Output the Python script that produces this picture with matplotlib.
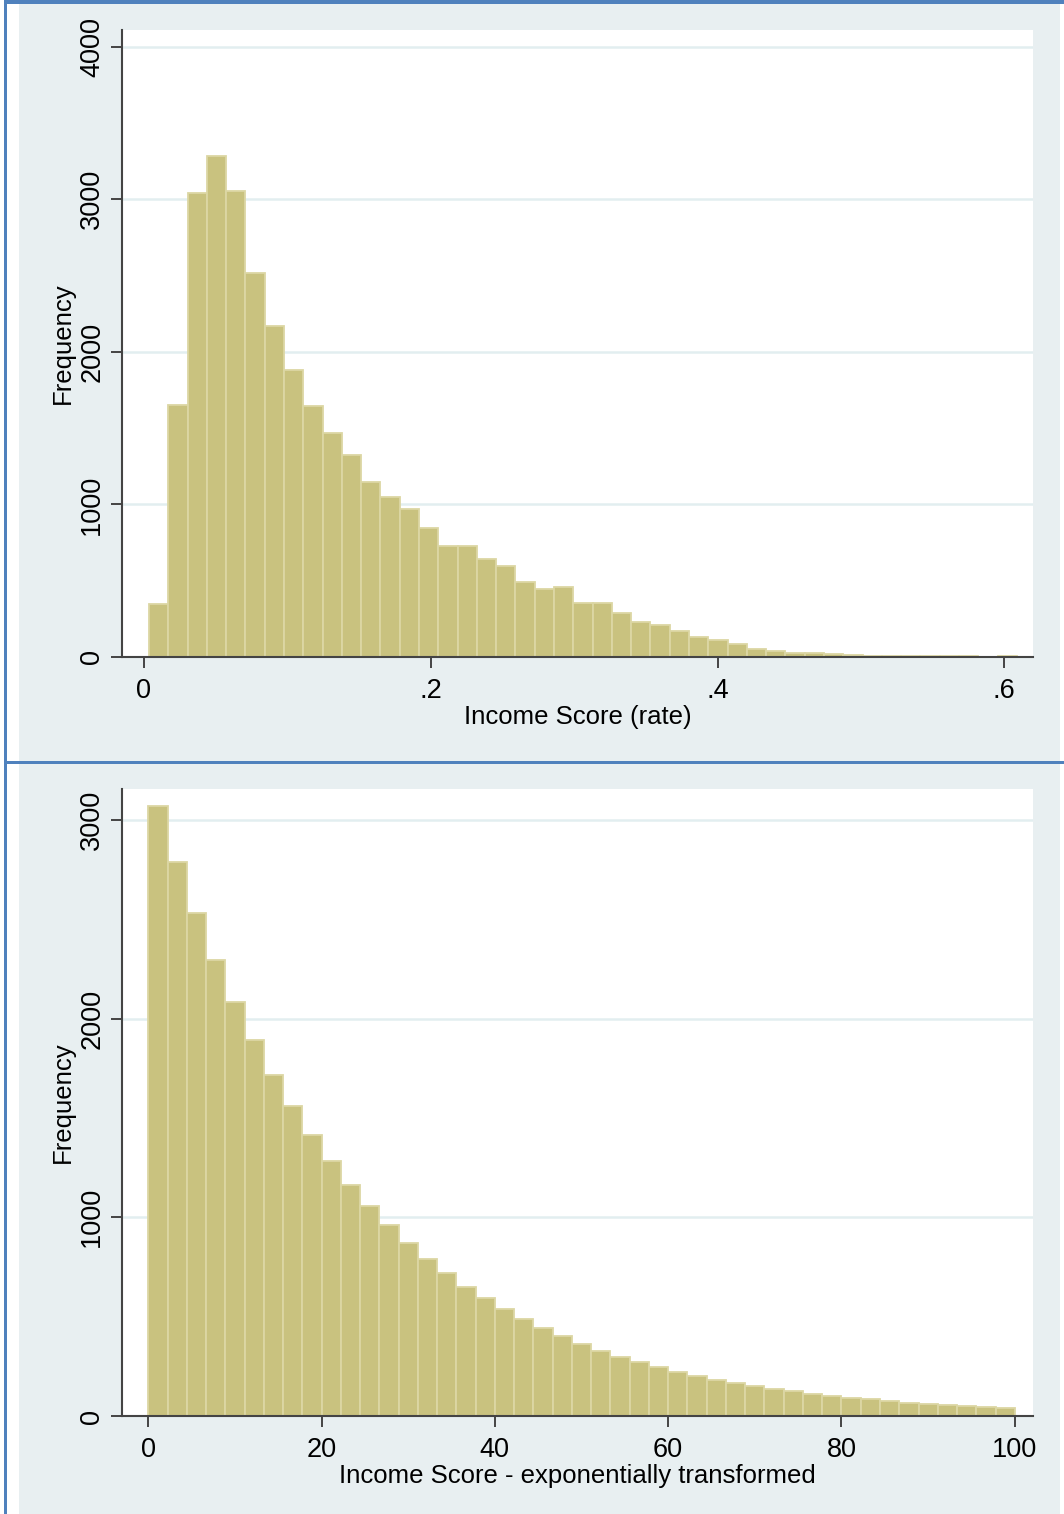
import matplotlib
matplotlib.use("Agg")
import matplotlib.pyplot as plt
import numpy as np
from matplotlib.patches import Rectangle

# Data: histogram counts (45 bins each)
rate_min, rate_max = 0.0035, 0.6088
rate_counts = [348, 1652, 3043, 3285, 3056, 2518, 2170, 1882, 1646, 1469,
               1325, 1148, 1049, 970, 846, 728, 728, 643, 597, 492,
               446, 459, 354, 354, 289, 230, 210, 170, 131, 111,
               85, 55, 40, 28, 25, 20, 12, 9, 8, 7,
               7, 6, 6, 0, 6]
rate_xticks = [0, 0.2, 0.4, 0.6]
rate_xticklabels = ["0", ".2", ".4", ".6"]
rate_yticks = [0, 1000, 2000, 3000, 4000]

exp_min, exp_max = 0.0, 100.0
exp_counts = [3070, 2788, 2531, 2295, 2083, 1892, 1716, 1560, 1414, 1283,
              1163, 1057, 961, 871, 790, 720, 649, 594, 538, 488,
              443, 403, 362, 327, 297, 272, 247, 221, 201, 181,
              166, 151, 136, 126, 111, 101, 91, 86, 75, 65,
              60, 55, 50, 45, 40]
exp_xticks = [0, 20, 40, 60, 80, 100]
exp_yticks = [0, 1000, 2000, 3000]

W, H = 1064, 1514
plt.rcParams['font.family'] = ['Liberation Sans', 'DejaVu Sans']
fig = plt.figure(figsize=(W / 100, H / 100), dpi=100)
fig.patch.set_facecolor('white')

BLUE = '#4f81bd'
REGION = '#e8eff1'
GRID = '#e2eef0'
FILL = '#c9c27f'
EDGE = '#dcd7a4'
AXC = '#444444'


def box(x0, y0, x1, y1):
    # pixel box (top-left origin) -> figure fraction rect
    return [x0 / W, 1 - y1 / H, (x1 - x0) / W, (y1 - y0) / H]


def frame(x0, y0, x1, y1, color):
    l, b, w, h = box(x0, y0, x1, y1)
    fig.add_artist(Rectangle((l, b), w, h, transform=fig.transFigure,
                             facecolor=color, edgecolor='none', zorder=0))


# graph regions and blue borders
frame(19, 4, 1060, 761, REGION)
frame(19, 764, 1060, 1514, REGION)
frame(4, 0, 7, 1514, BLUE)
frame(4, 0, 1064, 4, BLUE)
frame(4, 761, 1064, 764, BLUE)


def hist_panel(rect, lo, hi, counts, xlim, ylim, xticks, xticklabels, yticks, xlabel):
    ax = fig.add_axes(rect)
    ax.set_facecolor('white')
    edges = np.linspace(lo, hi, len(counts) + 1)
    ax.bar(edges[:-1], counts, width=np.diff(edges), align='edge',
           color=FILL, edgecolor=EDGE, linewidth=1.3, zorder=2)
    ax.set_xlim(*xlim)
    ax.set_ylim(*ylim)
    for y in yticks[1:]:
        ax.axhline(y, color=GRID, lw=1.8, zorder=1)
    for s in ['top', 'right']:
        ax.spines[s].set_visible(False)
    for s in ['left', 'bottom']:
        ax.spines[s].set_color(AXC)
        ax.spines[s].set_linewidth(1.5)
    ax.spines['bottom'].set_zorder(3)
    ax.set_xticks(xticks)
    ax.set_xticklabels(xticklabels)
    ax.set_yticks(yticks)
    ax.set_yticklabels([str(v) for v in yticks], rotation=90, va='center')
    ax.tick_params(axis='both', length=8, width=1.4, color=AXC,
                   labelsize=19.5, labelcolor='black')
    ax.tick_params(axis='x', pad=7)
    ax.tick_params(axis='y', pad=4)
    ax.set_ylabel('Frequency', fontsize=18.5, labelpad=3)
    ax.set_xlabel(xlabel, fontsize=18.5, labelpad=1)
    return ax


hist_panel(box(122, 30, 1033, 657), rate_min, rate_max, rate_counts,
           (-0.0153, 0.620), (0, 4110), rate_xticks, rate_xticklabels,
           rate_yticks, 'Income Score (rate)')

hist_panel(box(122, 789, 1033, 1416), exp_min, exp_max, exp_counts,
           (-3.03, 102.1), (0, 3155), exp_xticks,
           [str(v) for v in exp_xticks], exp_yticks,
           'Income Score - exponentially transformed')

fig.savefig('out.png', dpi=100)
